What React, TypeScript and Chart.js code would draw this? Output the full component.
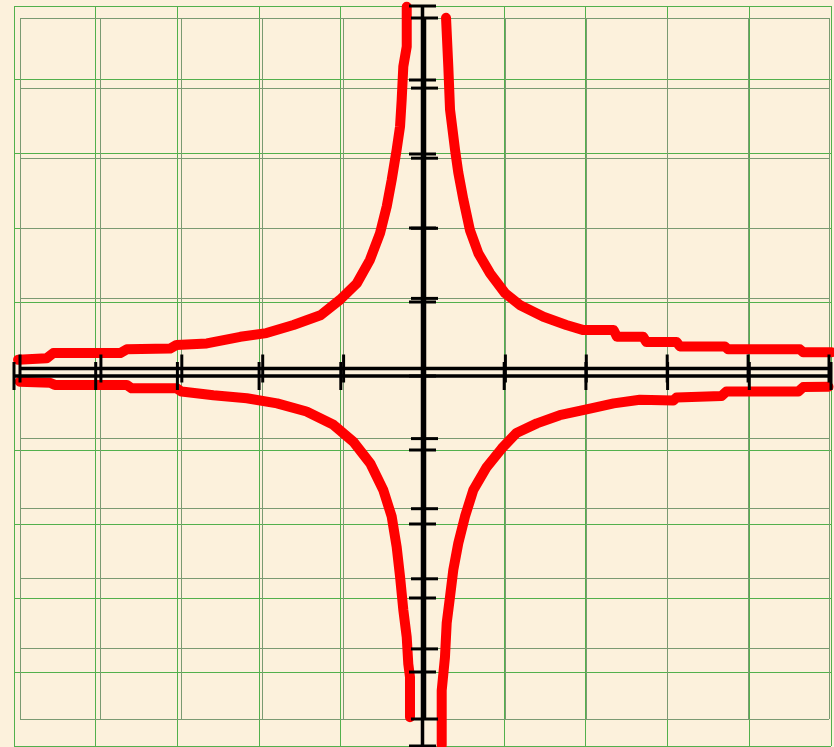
import React, { useEffect, useRef } from "react";
import { Chart, registerables } from "chart.js";

Chart.register(...registerables);

const W = 834;
const H = 747;

// Axis range (both overlaid copies of the grid use -5..5)
const AXIS_MIN = -5;
const AXIS_MAX = 5;
const tickValues = [-5, -4, -3, -2, -1, 0, 1, 2, 3, 4, 5];

// Curves (in the outer grid's units)
const upperLeftX = [-4.95, -4.6, -4.52, -3.7, -3.62, -3.09, -3.01, -2.64, -2.23, -1.91, -1.58, -1.25, -1.01, -0.805, -0.643, -0.52, -0.438, -0.377, -0.316, -0.275, -0.255, -0.235, -0.193, -0.193];
const upperLeftY = [0.22, 0.24, 0.31, 0.31, 0.36, 0.37, 0.42, 0.44, 0.53, 0.58, 0.69, 0.82, 1.03, 1.25, 1.57, 1.93, 2.29, 2.65, 3.06, 3.37, 3.73, 4.18, 4.45, 4.99];

const upperRightX = [0.288, 0.316, 0.337, 0.398, 0.438, 0.499, 0.581, 0.683, 0.826, 1.01, 1.19, 1.48, 1.76, 1.97, 2.34, 2.38, 2.7, 2.74, 3.11, 3.15, 3.7, 3.74, 4.62, 4.66, 5.01];
const upperRightY = [4.84, 4.18, 3.6, 3.06, 2.75, 2.39, 1.97, 1.66, 1.39, 1.12, 0.96, 0.8, 0.69, 0.62, 0.62, 0.53, 0.53, 0.46, 0.46, 0.4, 0.4, 0.36, 0.36, 0.32, 0.32];

const lowerLeftX = [-4.93, -4.56, -4.5, -3.62, -3.56, -3.01, -2.95, -2.56, -2.15, -1.78, -1.42, -1.09, -0.845, -0.64, -0.48, -0.377, -0.316, -0.275, -0.235, -0.193, -0.174, -0.153, -0.153];
const lowerLeftY = [-0.077, -0.091, -0.12, -0.12, -0.166, -0.166, -0.21, -0.26, -0.3, -0.37, -0.48, -0.66, -0.89, -1.18, -1.54, -1.9, -2.31, -2.71, -3.16, -3.53, -3.89, -4.07, -4.61];

const lowerRightX = [0.235, 0.235, 0.275, 0.296, 0.337, 0.377, 0.438, 0.52, 0.622, 0.786, 0.969, 1.15, 1.4, 1.68, 2.05, 2.34, 2.66, 3.07, 3.11, 3.66, 3.72, 4.6, 4.66, 4.97];
const lowerRightY = [-4.99, -4.25, -3.8, -3.34, -2.98, -2.62, -2.26, -1.9, -1.54, -1.23, -0.98, -0.77, -0.64, -0.53, -0.44, -0.37, -0.32, -0.33, -0.29, -0.27, -0.21, -0.21, -0.15, -0.145];

const zip = (xs: number[], ys: number[]) => xs.map((x, i) => ({ x, y: ys[i] }));

const OUTER_PAD = { left: 14, right: 3, top: 6, bottom: 1 };
const INNER_PAD = { left: 20, right: 5, top: 18, bottom: 28 };

const OUTER_GRID = "#52b04c";
const INNER_GRID = "#7a9a72";
const RED = "#ff0000";
const BLACK = "#000000";

function makeScales(gridColor: string | null) {
  const axis = () => ({
    type: "linear" as const,
    min: AXIS_MIN,
    max: AXIS_MAX,
    display: gridColor !== null,
    ticks: { display: false, stepSize: 1 },
    grid: { display: true, color: gridColor || "transparent", lineWidth: 1, drawTicks: false },
    border: { display: false },
  });
  return { x: axis(), y: axis() };
}

function baseOptions(pad: any, gridColor: string | null) {
  return {
    responsive: false,
    animation: false as const,
    events: [] as any[],
    layout: { padding: pad, autoPadding: false },
    scales: makeScales(gridColor),
    plugins: { legend: { display: false }, tooltip: { enabled: false }, title: { display: false } },
  };
}

function axesDatasets() {
  return [
    {
      data: [{ x: AXIS_MIN, y: 0 }, { x: AXIS_MAX, y: 0 }],
      showLine: true, borderColor: BLACK, borderWidth: 3.5, pointRadius: 0, clip: false,
    },
    {
      data: [{ x: 0, y: AXIS_MIN }, { x: 0, y: AXIS_MAX }],
      showLine: true, borderColor: BLACK, borderWidth: 3.5, pointRadius: 0, clip: false,
    },
    {
      data: tickValues.map((v) => ({ x: v, y: 0 })),
      showLine: false, pointStyle: "line", pointRadius: 14, pointBorderWidth: 3,
      pointBorderColor: BLACK, pointBackgroundColor: BLACK, pointRotation: 90, clip: false,
    },
    {
      data: tickValues.map((v) => ({ x: 0, y: v })),
      showLine: false, pointStyle: "line", pointRadius: 13.5, pointBorderWidth: 3,
      pointBorderColor: BLACK, pointBackgroundColor: BLACK, pointRotation: 0, clip: false,
    },
  ];
}

function curveDataset(xs: number[], ys: number[]) {
  return {
    data: zip(xs, ys),
    showLine: true,
    borderColor: RED,
    borderWidth: 10,
    borderCapStyle: "round" as const,
    borderJoinStyle: "round" as const,
    pointRadius: 0,
    tension: 0,
    clip: false,
  };
}

function Layer({ build }: { build: () => any }) {
  const ref = useRef<HTMLCanvasElement | null>(null);
  useEffect(() => {
    if (!ref.current) return;
    const chart = new Chart(ref.current, build());
    return () => chart.destroy();
  }, []);
  return (
    <canvas
      ref={ref}
      width={W}
      height={H}
      style={{ position: "absolute", left: 0, top: 0, width: W, height: H }}
    />
  );
}

const outerGrid = () => ({ type: "scatter", data: { datasets: [] }, options: baseOptions(OUTER_PAD, OUTER_GRID) });
const innerGrid = () => ({ type: "scatter", data: { datasets: [] }, options: baseOptions(INNER_PAD, INNER_GRID) });
const curves = () => ({
  type: "scatter",
  data: {
    datasets: [
      curveDataset(upperLeftX, upperLeftY),
      curveDataset(upperRightX, upperRightY),
      curveDataset(lowerLeftX, lowerLeftY),
      curveDataset(lowerRightX, lowerRightY),
    ],
  },
  options: baseOptions(OUTER_PAD, null),
});
const outerAxes = () => ({ type: "scatter", data: { datasets: axesDatasets() }, options: baseOptions(OUTER_PAD, null) });
const innerAxes = () => ({ type: "scatter", data: { datasets: axesDatasets() }, options: baseOptions(INNER_PAD, null) });

export default function App() {
  return (
    <div
      style={{
        position: "fixed",
        left: 0,
        top: 0,
        width: W,
        height: H,
        background: "#fcf1dc",
        overflow: "hidden",
      }}
    >
      <Layer build={outerGrid} />
      <Layer build={innerGrid} />
      <Layer build={curves} />
      <Layer build={outerAxes} />
      <Layer build={innerAxes} />
    </div>
  );
}
